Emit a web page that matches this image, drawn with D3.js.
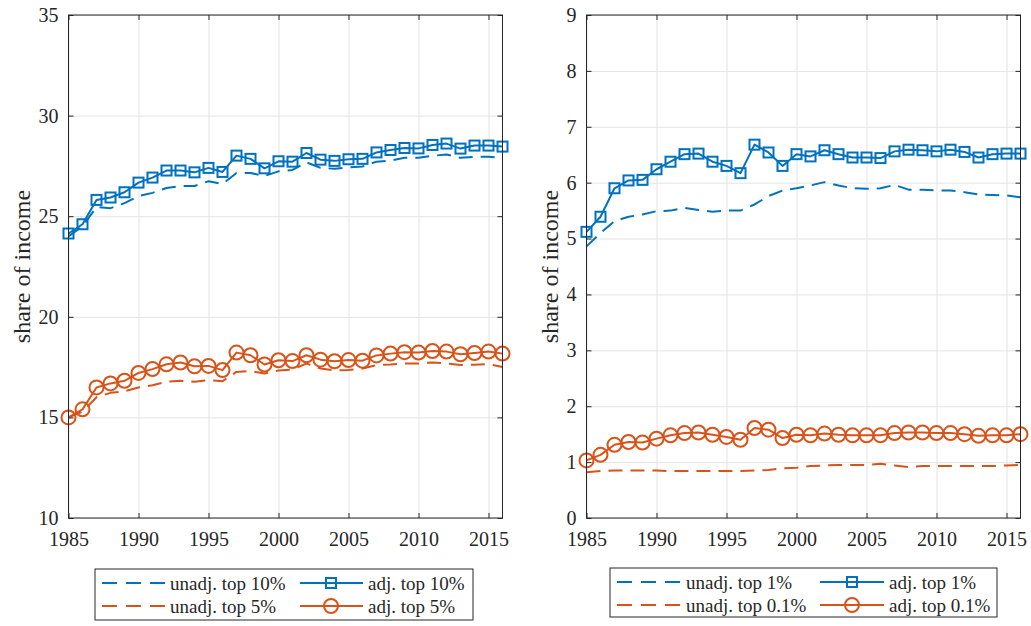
<!DOCTYPE html>
<html><head><meta charset="utf-8">
<script src="https://cdn.jsdelivr.net/npm/d3@7"></script>
<style>
body{margin:0;background:#fff}
svg{display:block}
</style>
</head><body>
<svg id="chart" width="1031" height="626"></svg>
<script>
const years = [1985,1986,1987,1988,1989,1990,1991,1992,1993,1994,1995,1996,1997,1998,1999,2000,
               2001,2002,2003,2004,2005,2006,2007,2008,2009,2010,2011,2012,2013,2014,2015,2016];
const xTicks = [1985,1990,1995,2000,2005,2010,2015];
const leftYTicks = [10,15,20,25,30,35];
const rightYTicks = [0,1,2,3,4,5,6,7,8,9];

const unadjTop10 = [24.0,24.5,25.45,25.4,25.65,26.0,26.16,26.4,26.5,26.5,26.74,26.6,27.15,27.15,27.0,27.23,
                    27.3,27.68,27.4,27.36,27.43,27.47,27.71,27.76,27.9,27.9,28.0,28.07,27.9,27.95,27.95,27.9];
const adjTop10 = [24.14,24.6,25.81,25.93,26.19,26.67,26.92,27.27,27.27,27.18,27.40,27.20,28.01,27.85,27.38,27.73,
                  27.71,28.14,27.81,27.75,27.83,27.85,28.17,28.29,28.39,28.37,28.54,28.61,28.36,28.51,28.51,28.46];
const unadjTop5 = [15.0,15.28,16.0,16.22,16.3,16.49,16.6,16.77,16.82,16.77,16.85,16.8,17.26,17.3,17.18,17.33,
                   17.38,17.68,17.43,17.33,17.36,17.43,17.6,17.63,17.68,17.68,17.73,17.68,17.6,17.62,17.65,17.5];
const adjTop5 = [15.0,15.4,16.49,16.69,16.82,17.21,17.40,17.64,17.73,17.54,17.56,17.35,18.22,18.09,17.63,17.84,
                 17.80,18.09,17.87,17.79,17.85,17.82,18.08,18.17,18.24,18.22,18.30,18.27,18.14,18.2,18.27,18.17];

const unadjTop1 = [4.86,5.10,5.31,5.39,5.43,5.49,5.5,5.55,5.51,5.48,5.5,5.5,5.61,5.76,5.86,5.9,
                   5.95,6.01,5.95,5.90,5.89,5.9,5.96,5.875,5.875,5.86,5.86,5.83,5.79,5.78,5.77,5.74];
const adjTop1 = [5.12,5.39,5.90,6.04,6.05,6.24,6.375,6.51,6.52,6.375,6.30,6.17,6.68,6.54,6.30,6.51,
                 6.47,6.58,6.51,6.45,6.45,6.44,6.56,6.59,6.58,6.56,6.59,6.55,6.45,6.51,6.52,6.52];
const unadjTop01 = [0.82,0.84,0.85,0.85,0.85,0.85,0.84,0.84,0.84,0.84,0.84,0.84,0.85,0.86,0.89,0.9,
                    0.93,0.94,0.95,0.95,0.95,0.97,0.94,0.91,0.93,0.93,0.93,0.93,0.93,0.93,0.94,0.95];
const adjTop01 = [1.03,1.13,1.31,1.36,1.35,1.42,1.48,1.52,1.53,1.49,1.45,1.40,1.61,1.58,1.43,1.49,
                  1.48,1.51,1.49,1.48,1.48,1.48,1.52,1.53,1.53,1.52,1.52,1.50,1.47,1.48,1.48,1.50];

const leftLabels = ["unadj. top 10%","adj. top 10%","unadj. top 5%","adj. top 5%"];
const rightLabels = ["unadj. top 1%","adj. top 1%","unadj. top 0.1%","adj. top 0.1%"];
const yLabel = "share of income";

const BLUE = "#0072BD", ORANGE = "#D95319", AX = "#262626", GRID = "#e3e3e3";
const FONT = "'Liberation Serif', 'Times New Roman', serif";

const svg = d3.select("#chart").attr("font-family", FONT);

const panels = [
  {x0:68.5, x1:502.5, y0:15, y1:518, yDomain:[10,35], yTicks:leftYTicks, labelX:22,
   series:[
     {v:unadjTop10, c:BLUE, dash:true},
     {v:adjTop10, c:BLUE, m:"square"},
     {v:unadjTop5, c:ORANGE, dash:true},
     {v:adjTop5, c:ORANGE, m:"circle"}],
   labels:leftLabels,
   legend:{bx:95, by:569, bw:378, bh:51, c1a:102, c1b:166, t1:170, c2a:300, c2b:363, mk:331, t2:368}},
  {x0:586.5, x1:1020.5, y0:15, y1:518, yDomain:[0,9], yTicks:rightYTicks, labelX:550,
   series:[
     {v:unadjTop1, c:BLUE, dash:true},
     {v:adjTop1, c:BLUE, m:"square"},
     {v:unadjTop01, c:ORANGE, dash:true},
     {v:adjTop01, c:ORANGE, m:"circle"}],
   labels:rightLabels,
   legend:{bx:610, by:568, bw:387, bh:49, c1a:617, c1b:681, t1:686, c2a:820, c2b:884, mk:852, t2:889}}
];

function marker(g, type, cx, cy, color){
  if(type==="square"){
    g.append("rect").attr("x",cx-5).attr("y",cy-5).attr("width",10).attr("height",10)
      .attr("fill","none").attr("stroke",color).attr("stroke-width",2);
  } else {
    g.append("circle").attr("cx",cx).attr("cy",cy).attr("r",7)
      .attr("fill","none").attr("stroke",color).attr("stroke-width",2);
  }
}

function styleAxis(s, withText){
  s.attr("font-family", FONT);
  s.select(".domain").remove();
  s.selectAll("line").attr("stroke",AX);
  if(withText) s.selectAll("text").attr("font-size",20).attr("fill",AX).attr("font-family",FONT);
}

panels.forEach(p=>{
  const x = d3.scaleLinear().domain([1985,2016]).range([p.x0,p.x1]);
  const y = d3.scaleLinear().domain(p.yDomain).range([p.y1,p.y0]);
  const W = p.x1-p.x0, H = p.y1-p.y0;
  const g = svg.append("g");

  // grid
  g.append("g").attr("transform",`translate(0,${p.y1})`)
    .call(d3.axisBottom(x).tickValues(xTicks).tickSize(-H).tickFormat(""))
    .call(s=>{s.select(".domain").remove(); s.selectAll("line").attr("stroke",GRID).attr("stroke-width",1);});
  g.append("g").attr("transform",`translate(${p.x0},0)`)
    .call(d3.axisLeft(y).tickValues(p.yTicks).tickSize(-W).tickFormat(""))
    .call(s=>{s.select(".domain").remove(); s.selectAll("line").attr("stroke",GRID).attr("stroke-width",1);});

  // series
  const dg = g.append("g");
  p.series.forEach(s=>{
    const line = d3.line().x((d,i)=>x(years[i])).y(d=>y(d));
    dg.append("path").datum(s.v).attr("d",line).attr("fill","none")
      .attr("stroke",s.c).attr("stroke-width",2)
      .attr("stroke-dasharray", s.dash ? "14,8" : null)
      .attr("stroke-linejoin","round");
    if(s.m){
      s.v.forEach((d,i)=>marker(dg, s.m, x(years[i]), y(d), s.c));
    }
  });

  // axes (ticks inward, box)
  const fmt = d3.format("d");
  g.append("g").attr("transform",`translate(0,${p.y1})`)
    .call(d3.axisBottom(x).tickValues(xTicks).tickSizeInner(-5).tickSizeOuter(0).tickPadding(14).tickFormat(fmt))
    .call(s=>styleAxis(s,true));
  g.append("g").attr("transform",`translate(0,${p.y0})`)
    .call(d3.axisTop(x).tickValues(xTicks).tickSizeInner(-5).tickSizeOuter(0).tickFormat(""))
    .call(s=>styleAxis(s,false));
  g.append("g").attr("transform",`translate(${p.x0},0)`)
    .call(d3.axisLeft(y).tickValues(p.yTicks).tickSizeInner(-5).tickSizeOuter(0).tickPadding(10).tickFormat(fmt))
    .call(s=>styleAxis(s,true));
  g.append("g").attr("transform",`translate(${p.x1},0)`)
    .call(d3.axisRight(y).tickValues(p.yTicks).tickSizeInner(-5).tickSizeOuter(0).tickFormat(""))
    .call(s=>styleAxis(s,false));
  g.append("rect").attr("x",p.x0).attr("y",p.y0).attr("width",W).attr("height",H)
    .attr("fill","none").attr("stroke",AX).attr("stroke-width",1);

  // y label
  g.append("text").attr("transform",`translate(${p.labelX},${(p.y0+p.y1)/2}) rotate(-90)`)
    .attr("text-anchor","middle").attr("dominant-baseline","central")
    .attr("font-family",FONT).attr("fill",AX)
    .attr("font-size",24).text(yLabel);

  // legend
  const L = p.legend;
  const lg = g.append("g");
  lg.append("rect").attr("x",L.bx).attr("y",L.by).attr("width",L.bw).attr("height",L.bh)
    .attr("fill","#fff").attr("stroke","#262626").attr("stroke-width",1);
  const rows = [L.by+14, L.by+37];
  p.series.forEach((s,i)=>{
    const row = rows[Math.floor(i/2)];
    const col2 = i%2===1;
    const a = col2 ? L.c2a : L.c1a, b = col2 ? L.c2b : L.c1b;
    lg.append("line").attr("x1",a).attr("x2",b).attr("y1",row).attr("y2",row)
      .attr("stroke",s.c).attr("stroke-width",2).attr("stroke-dasharray", s.dash ? "15,9" : null);
    if(s.m) marker(lg, s.m, L.mk, row, s.c);
    lg.append("text").attr("x", col2 ? L.t2 : L.t1).attr("y",row)
      .attr("dominant-baseline","central").attr("font-family",FONT).attr("fill",AX)
      .attr("font-size",19).text(p.labels[i]);
  });
});
</script>
</body></html>
